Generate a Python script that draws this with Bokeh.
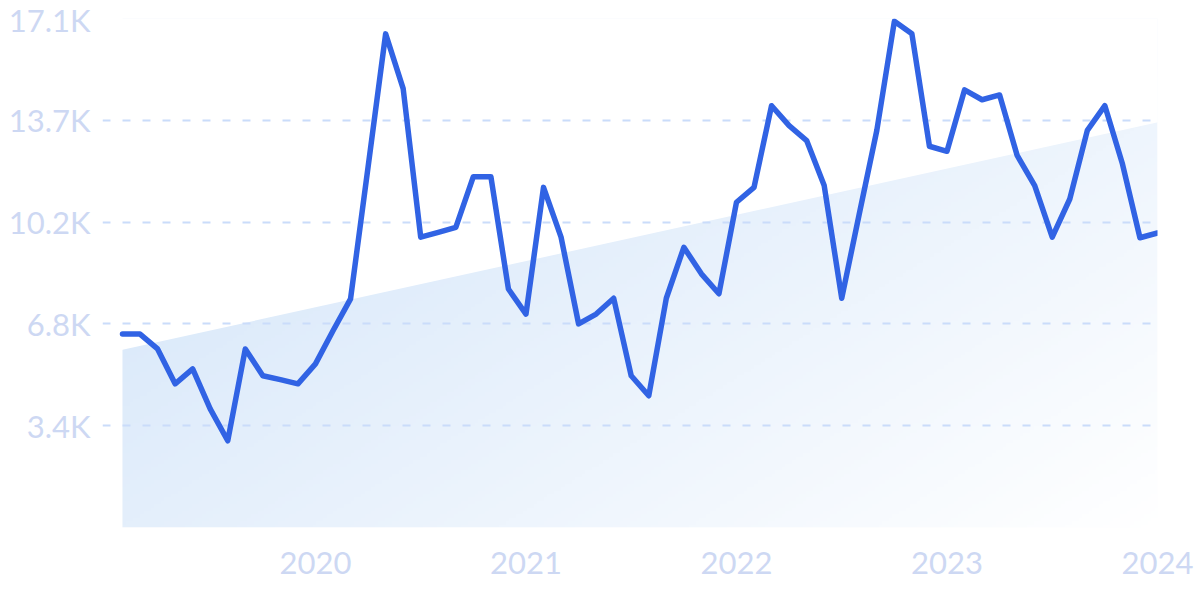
import numpy as np
import pandas as pd
from bokeh.plotting import figure
from bokeh.models import FixedTicker, Range1d
from bokeh.embed import file_html
from bokeh.resources import INLINE

# ---- data ----
months = [d.strftime("%Y-%m") for d in pd.date_range("2019-02-01", periods=60, freq="MS")]
values = [6490, 6490, 5990, 4820, 5320, 3980, 2910, 5990, 5090, 4960,
          4820, 5490, 6600, 7670, 12100, 16560, 14720, 9740, 9900, 10070,
          11770, 11770, 8000, 7160, 11410, 9740, 6830, 7160, 7690, 5090,
          4420, 7690, 9400, 8510, 7840, 10910, 11410, 14150, 13480, 12980,
          11470, 7690, 10520, 13320, 16980, 16560, 12790, 12620, 14680, 14350,
          14510, 12480, 11470, 9740, 11020, 13320, 14150, 12200, 9720, 9880]
y_tick_values = [3415, 6830, 10245, 13660, 17075]
y_tick_labels = ["3.4K", "6.8K", "10.2K", "13.7K", "17.1K"]
x_tick_labels = ["2020", "2021", "2022", "2023", "2024"]

idx = np.arange(len(values))
x_tick_pos = [months.index(f"{y}-01") for y in x_tick_labels]

# linear trend
slope, intercept = np.polyfit(idx, values, 1)

LABEL_COLOR = "#cdd8f3"
FONT = "Lato"

y_top = y_tick_values[-1]
x0, x1 = float(idx[0]), float(idx[-1])
x_start = x0 - 1.14

p = figure(width=1200, height=599, output_backend="svg", toolbar_location=None,
           x_range=Range1d(x_start, x1), y_range=Range1d(0, y_top),
           min_border_left=102, min_border_right=43, min_border_top=18, min_border_bottom=72,
           background_fill_color="white", border_fill_color="white")
p.outline_line_color = None

# ---- gradient fill under trend ----
W, H = 300, 150
u = (np.arange(W) + 0.5) / W
v = (np.arange(H) + 0.5) / H
U, V = np.meshgrid(u, v)
t = np.clip(0.7835 * U + 0.2166 - 0.6159 * V, 0, 1)
c0 = np.array([220, 234, 250], dtype=float)
img = np.empty((H, W), dtype=np.uint32)
view = img.view(dtype=np.uint8).reshape((H, W, 4))
for k in range(3):
    view[:, :, k] = np.round(c0[k] + (255 - c0[k]) * t).astype(np.uint8)
view[:, :, 3] = 255
p.image_rgba(image=[img], x=x0, y=0, dw=x1 - x0, dh=y_top, level="image")

# white mask above the trend line
xl, xr = x_start - 1, x1 + 1
mask_x = [xl, xr, xr, xl]
mask_y = [slope * xl + intercept, slope * xr + intercept, y_top * 1.1, y_top * 1.1]
p.patch(mask_x, mask_y, fill_color="white", line_color=None, level="image")

# ---- main line ----
p.line(idx, values, line_color="#3163e4", line_width=5.5, line_join="round", line_cap="round")

# ---- axes ----
p.yaxis.ticker = FixedTicker(ticks=y_tick_values)
p.yaxis.major_label_overrides = {v_: l for v_, l in zip(y_tick_values, y_tick_labels)}
p.xaxis.ticker = FixedTicker(ticks=x_tick_pos)
p.xaxis.major_label_overrides = {int(v_): l for v_, l in zip(x_tick_pos, x_tick_labels)}
for ax in (p.xaxis, p.yaxis):
    ax.axis_line_color = None
    ax.major_tick_line_color = None
    ax.minor_tick_line_color = None
    ax.major_tick_out = 0
    ax.major_tick_in = 0
    ax.major_label_text_color = LABEL_COLOR
    ax.major_label_text_font = FONT
    ax.major_label_text_font_size = "31px"
p.yaxis.major_label_standoff = 12
p.xaxis.major_label_standoff = 24

p.xgrid.visible = False
p.ygrid.ticker = FixedTicker(ticks=y_tick_values)
p.ygrid.grid_line_color = "#cadcfa"
p.ygrid.grid_line_width = 2
p.ygrid.grid_line_dash = "8 12"

open("out.html", "w").write(file_html(p, INLINE))
